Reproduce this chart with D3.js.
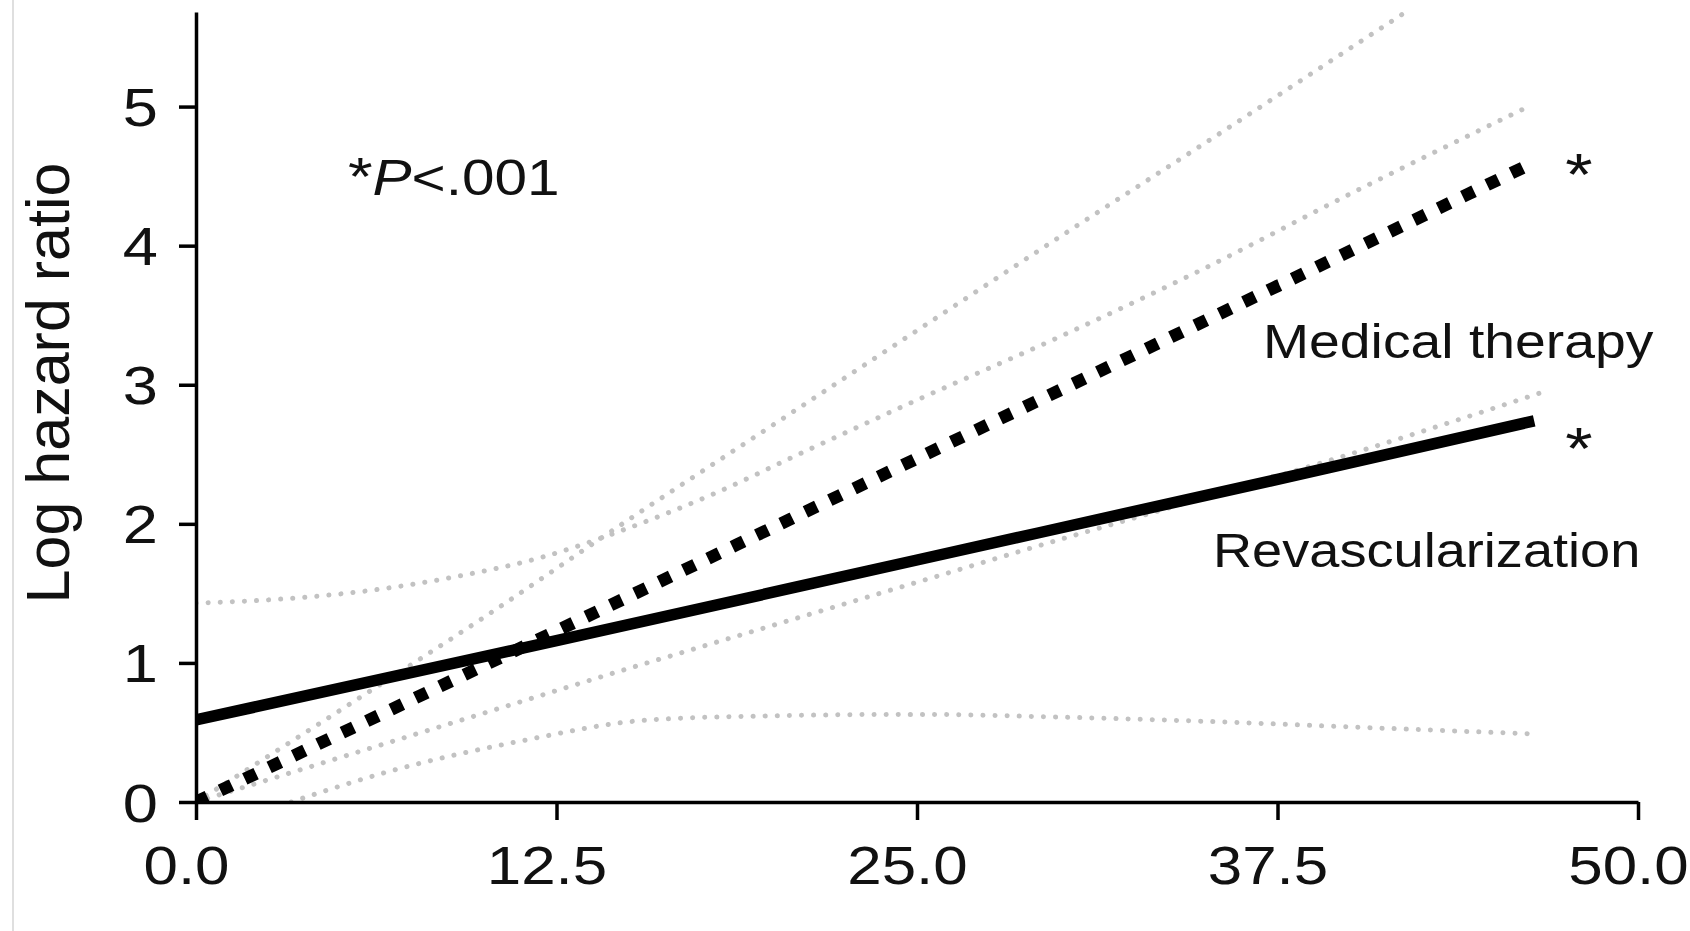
<!DOCTYPE html>
<html>
<head>
<meta charset="utf-8">
<script src="https://cdn.jsdelivr.net/npm/d3@7"></script>
<style>
  html, body { margin: 0; padding: 0; background: #fff; }
  svg { display: block; }
  text { font-family: "Liberation Sans", Arial, sans-serif; fill: #111; }
</style>
</head>
<body>
<svg id="chart" width="1690" height="931"></svg>
<script>
// Log hazard ratio by score, two treatment strategies with confidence bands
const xTicks = [0, 12.5, 25, 37.5, 50];
const yTicks = [0, 1, 2, 3, 4, 5];

// Medical therapy (thick dotted)
const medicalX = [0, 12.5, 25, 37.5, 46.2];
const medicalY = [0, 1.23, 2.47, 3.71, 4.58];

// Revascularization (thick solid)
const revascX = [0, 12.5, 25, 37.5, 46.4];
const revascY = [0.59, 1.16, 1.74, 2.32, 2.74];

// Confidence limits (light grey dotted)
const bandAX = [0, 3, 6, 9, 12, 15, 18, 21, 25, 30, 35, 40, 46];
const bandAY = [1.43, 1.46, 1.52, 1.62, 1.76, 1.97, 2.22, 2.51, 2.89, 3.35, 3.84, 4.37, 4.98];

const bandBX = [0, 5, 10, 15, 20, 25, 30, 35, 41.8, 46.2];
const bandBY = [0, 0.66, 1.33, 2.03, 2.71, 3.39, 4.07, 4.74, 5.66, 6.25];

const bandCX = [0, 5, 10, 15, 17.1, 20, 25, 30, 33, 40, 46.6];
const bandCY = [0, 0.32, 0.64, 0.96, 1.09, 1.27, 1.58, 1.89, 2.07, 2.5, 2.94];

const bandDX = [3.3, 6.7, 11.3, 15.7, 20, 25, 30, 35, 40, 46.3];
const bandDY = [0, 0.22, 0.44, 0.59, 0.62, 0.63, 0.61, 0.58, 0.54, 0.49];

const svg = d3.select("#chart");
const W = 1690, H = 931;
const plot = { left: 196, right: 1638, top: 12, bottom: 802 };
const textStretch = 1.17;

const x = d3.scaleLinear().domain([0, 50]).range([plot.left, plot.right]);
const y = d3.scaleLinear().domain([0, 5.68]).range([plot.bottom, plot.top]);

// faint frame line on the left edge
svg.append("line")
  .attr("x1", 13).attr("x2", 13).attr("y1", 0).attr("y2", H)
  .attr("stroke", "#d4d4d4").attr("stroke-width", 1.5);

svg.append("defs").append("clipPath").attr("id", "plotClip")
  .append("rect")
  .attr("x", plot.left).attr("y", plot.top)
  .attr("width", plot.right - plot.left + 40)
  .attr("height", plot.bottom - plot.top);

const zip = (xs, ys) => xs.map((v, i) => [v, ys[i]]);
const line = d3.line().x(d => x(d[0])).y(d => y(d[1])).curve(d3.curveMonotoneX);

const lines = svg.append("g").attr("clip-path", "url(#plotClip)");

const bands = [zip(bandAX, bandAY), zip(bandBX, bandBY), zip(bandCX, bandCY), zip(bandDX, bandDY)];
lines.selectAll("path.band").data(bands).enter().append("path")
  .attr("class", "band")
  .attr("d", line)
  .attr("fill", "none")
  .attr("stroke", "#c2c2c2")
  .attr("stroke-width", 5)
  .attr("stroke-linecap", "round")
  .attr("stroke-dasharray", "0.1 12");

lines.append("path")
  .datum(zip(revascX, revascY))
  .attr("d", line)
  .attr("fill", "none")
  .attr("stroke", "#000")
  .attr("stroke-width", 11.5)
  .attr("stroke-linecap", "butt");

lines.append("path")
  .datum(zip(medicalX, medicalY))
  .attr("d", line)
  .attr("fill", "none")
  .attr("stroke", "#000")
  .attr("stroke-width", 12.5)
  .attr("stroke-linecap", "butt")
  .attr("stroke-dasharray", "12.5 14.5");

// axes
const yAxis = d3.axisLeft(y).tickValues(yTicks).tickFormat(d3.format("d"))
  .tickSize(17).tickSizeOuter(0).tickPadding(21);
const gy = svg.append("g").attr("transform", `translate(${plot.left},0)`).call(yAxis);

const xAxis = d3.axisBottom(x).tickValues(xTicks).tickFormat(d3.format(".1f"))
  .tickSize(18).tickSizeOuter(0).tickPadding(0);
const gx = svg.append("g").attr("transform", `translate(0,${plot.bottom})`).call(xAxis);

[gx, gy].forEach(g => {
  g.select(".domain").attr("stroke", "#000").attr("stroke-width", 3.5);
  g.selectAll(".tick line").attr("stroke", "#000").attr("stroke-width", 3.5);
  g.selectAll(".tick text").attr("font-family", "Liberation Sans, Arial, sans-serif")
    .attr("font-size", 54).attr("fill", "#111");
});
gy.selectAll(".tick text")
  .attr("x", 0).attr("dy", null).attr("y", 0)
  .attr("transform", `translate(-38,19) scale(${textStretch},1)`);
gx.selectAll(".tick text")
  .attr("dy", null).attr("y", 0)
  .attr("transform", `translate(-10,82) scale(${textStretch * 0.98},1)`);

// y-axis title
svg.append("text")
  .attr("transform", "translate(69,383) rotate(-90)")
  .attr("text-anchor", "middle")
  .attr("font-size", 61)
  .text("Log hazard ratio");

// significance note
const note = svg.append("text")
  .attr("transform", `translate(348,195) scale(${textStretch},1)`)
  .attr("font-size", 50);
note.append("tspan").attr("font-size", 54).text("*");
note.append("tspan").attr("font-style", "italic").text("P");
note.append("tspan").text("<.001");

// series labels
const labels = [
  { text: "Medical therapy", xv: 1263, yv: 358 },
  { text: "Revascularization", xv: 1213, yv: 567 }
];
svg.selectAll("text.series").data(labels).enter().append("text")
  .attr("class", "series")
  .attr("transform", (d, i) => `translate(${d.xv},${d.yv}) scale(${i === 0 ? 1.165 : 1.14},1)`)
  .attr("font-size", 47.5)
  .text(d => d.text);

// asterisks at the end of each curve
const stars = [medicalY[medicalY.length - 1], revascY[revascY.length - 1]];
svg.selectAll("text.star").data(stars).enter().append("text")
  .attr("class", "star")
  .attr("text-anchor", "middle")
  .attr("transform", (d, i) => `translate(1579,${i === 0 ? 195 : 469}) scale(${textStretch},1)`)
  .attr("font-size", 60)
  .text("*");
</script>
</body>
</html>
